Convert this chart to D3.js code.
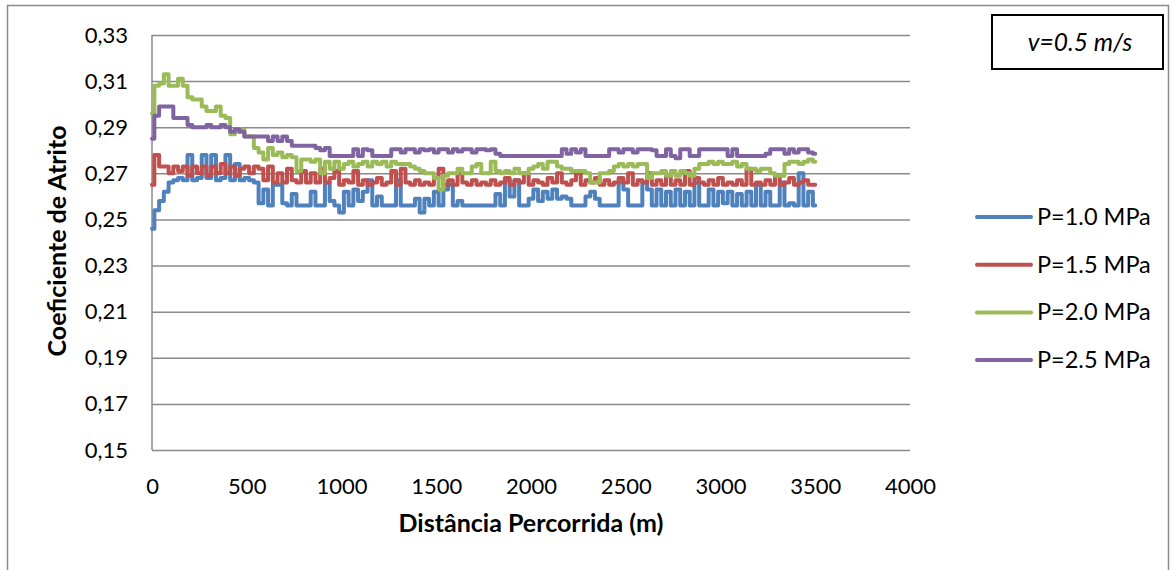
<!DOCTYPE html>
<html>
<head>
<meta charset="utf-8">
<script src="https://cdn.jsdelivr.net/npm/d3@7"></script>
<style>
  html, body { margin: 0; padding: 0; background: #fff; }
  svg { display: block; font-family: Lato, "Open Sans", sans-serif; }
</style>
</head>
<body>
<svg id="chart" width="1175" height="570"></svg>
<script>
// Friction coefficient vs. sliding distance, sampled every 25 m (0 .. 3500 m)
const sampleStep = 25;
const distances = d3.range(0, 3500 + sampleStep, sampleStep);

const seriesNames = ["P=1.0 MPa", "P=1.5 MPa", "P=2.0 MPa", "P=2.5 MPa"];
const seriesColors = ["#4F81BD", "#C0504D", "#9BBB59", "#8064A2"];

const muP10 = [
  0.246, 0.254, 0.258, 0.262, 0.266, 0.267, 0.268, 0.267, 0.278, 0.267,
  0.268, 0.278, 0.268, 0.278, 0.267, 0.268, 0.278, 0.267, 0.274, 0.267,
  0.268, 0.267, 0.266, 0.257, 0.263, 0.256, 0.265, 0.265, 0.257, 0.256,
  0.261, 0.256, 0.256, 0.256, 0.262, 0.256, 0.256, 0.266, 0.258, 0.256,
  0.253, 0.262, 0.256, 0.263, 0.258, 0.262, 0.267, 0.256, 0.260, 0.256,
  0.256, 0.256, 0.267, 0.256, 0.256, 0.256, 0.259, 0.253, 0.259, 0.256,
  0.262, 0.256, 0.263, 0.265, 0.256, 0.258, 0.256, 0.256, 0.256, 0.256,
  0.256, 0.256, 0.256, 0.261, 0.256, 0.267, 0.260, 0.267, 0.256, 0.256,
  0.259, 0.263, 0.258, 0.262, 0.259, 0.263, 0.259, 0.260, 0.259, 0.256,
  0.256, 0.256, 0.260, 0.262, 0.259, 0.256, 0.256, 0.256, 0.256, 0.266,
  0.263, 0.256, 0.256, 0.256, 0.266, 0.263, 0.256, 0.263, 0.256, 0.262,
  0.256, 0.263, 0.256, 0.262, 0.256, 0.266, 0.256, 0.256, 0.263, 0.256,
  0.262, 0.257, 0.262, 0.256, 0.261, 0.256, 0.262, 0.256, 0.265, 0.256,
  0.262, 0.256, 0.256, 0.266, 0.256, 0.257, 0.256, 0.270, 0.256, 0.262,
  0.256
];

const muP15 = [
  0.265, 0.278, 0.273, 0.273, 0.270, 0.273, 0.271, 0.273, 0.269, 0.273,
  0.270, 0.273, 0.269, 0.273, 0.270, 0.274, 0.270, 0.273, 0.269, 0.272,
  0.273, 0.270, 0.273, 0.272, 0.267, 0.273, 0.266, 0.270, 0.266, 0.272,
  0.267, 0.266, 0.271, 0.266, 0.270, 0.266, 0.272, 0.266, 0.268, 0.271,
  0.265, 0.267, 0.266, 0.271, 0.265, 0.267, 0.265, 0.266, 0.268, 0.265,
  0.266, 0.271, 0.265, 0.272, 0.266, 0.265, 0.267, 0.265, 0.266, 0.265,
  0.268, 0.272, 0.265, 0.267, 0.265, 0.270, 0.266, 0.265, 0.267, 0.265,
  0.266, 0.265, 0.267, 0.265, 0.266, 0.268, 0.265, 0.267, 0.266, 0.270,
  0.265, 0.267, 0.266, 0.265, 0.268, 0.266, 0.270, 0.266, 0.265, 0.267,
  0.270, 0.265, 0.267, 0.266, 0.268, 0.265, 0.267, 0.265, 0.266, 0.268,
  0.266, 0.270, 0.265, 0.267, 0.266, 0.270, 0.265, 0.267, 0.265, 0.269,
  0.265, 0.267, 0.265, 0.271, 0.265, 0.268, 0.266, 0.265, 0.267, 0.265,
  0.268, 0.265, 0.266, 0.265, 0.267, 0.265, 0.272, 0.265, 0.266, 0.265,
  0.267, 0.265, 0.269, 0.265, 0.266, 0.268, 0.265, 0.266, 0.267, 0.265,
  0.265
];

const muP20 = [
  0.296, 0.308, 0.309, 0.313, 0.308, 0.308, 0.311, 0.308, 0.303, 0.302,
  0.302, 0.299, 0.297, 0.297, 0.299, 0.295, 0.294, 0.287, 0.288, 0.289,
  0.286, 0.286, 0.281, 0.279, 0.276, 0.281, 0.278, 0.279, 0.277, 0.278,
  0.277, 0.271, 0.276, 0.276, 0.275, 0.276, 0.270, 0.275, 0.272, 0.275,
  0.272, 0.274, 0.275, 0.273, 0.274, 0.275, 0.273, 0.275, 0.274, 0.275,
  0.273, 0.275, 0.274, 0.274, 0.274, 0.273, 0.272, 0.271, 0.270, 0.270,
  0.268, 0.263, 0.269, 0.270, 0.270, 0.272, 0.270, 0.270, 0.273, 0.274,
  0.270, 0.270, 0.275, 0.271, 0.270, 0.271, 0.270, 0.272, 0.270, 0.270,
  0.272, 0.273, 0.274, 0.272, 0.275, 0.275, 0.273, 0.272, 0.272, 0.271,
  0.271, 0.271, 0.270, 0.266, 0.266, 0.270, 0.270, 0.271, 0.273, 0.274,
  0.273, 0.274, 0.273, 0.274, 0.274, 0.268, 0.270, 0.270, 0.271, 0.269,
  0.271, 0.269, 0.271, 0.270, 0.269, 0.272, 0.274, 0.274, 0.275, 0.274,
  0.275, 0.274, 0.274, 0.275, 0.273, 0.274, 0.272, 0.272, 0.271, 0.272,
  0.272, 0.270, 0.269, 0.269, 0.274, 0.275, 0.275, 0.274, 0.275, 0.276,
  0.275
];

const muP25 = [
  0.285, 0.295, 0.299, 0.299, 0.299, 0.294, 0.294, 0.294, 0.291, 0.290,
  0.290, 0.290, 0.291, 0.290, 0.290, 0.291, 0.290, 0.288, 0.289, 0.288,
  0.286, 0.286, 0.286, 0.286, 0.286, 0.284, 0.286, 0.284, 0.286, 0.284,
  0.282, 0.282, 0.282, 0.282, 0.282, 0.281, 0.280, 0.281, 0.2775, 0.2775,
  0.2775, 0.2775, 0.2775, 0.2805, 0.2775, 0.2805, 0.280, 0.2775, 0.2775, 0.2775,
  0.2775, 0.2805, 0.2805, 0.279, 0.2805, 0.2805, 0.279, 0.2805, 0.280, 0.2805,
  0.279, 0.2805, 0.2805, 0.279, 0.2805, 0.2795, 0.2805, 0.2805, 0.279, 0.2805,
  0.2805, 0.280, 0.2805, 0.2785, 0.2775, 0.2775, 0.2775, 0.2775, 0.2775, 0.2775,
  0.2775, 0.2775, 0.2775, 0.2775, 0.2775, 0.2775, 0.2775, 0.2805, 0.2785, 0.2805,
  0.279, 0.2805, 0.2775, 0.2775, 0.2775, 0.2775, 0.2775, 0.2805, 0.2805, 0.279,
  0.2805, 0.2805, 0.279, 0.2805, 0.2805, 0.2805, 0.280, 0.2775, 0.2775, 0.2805,
  0.2775, 0.2765, 0.2805, 0.2805, 0.2775, 0.2775, 0.2805, 0.2805, 0.2805, 0.2805,
  0.2805, 0.2805, 0.2775, 0.2805, 0.2775, 0.2775, 0.2775, 0.2775, 0.2775, 0.2775,
  0.2785, 0.2805, 0.2805, 0.2805, 0.2785, 0.2805, 0.279, 0.2805, 0.2805, 0.279,
  0.2785
];

const seriesValues = [muP10, muP15, muP20, muP25];

const xTickValues = [0, 500, 1000, 1500, 2000, 2500, 3000, 3500, 4000];
const yTickValues = [0.15, 0.17, 0.19, 0.21, 0.23, 0.25, 0.27, 0.29, 0.31, 0.33];

const xTitle = "Distância Percorrida (m)";
const yTitle = "Coeficiente de Atrito";
const speedNote = "v=0.5 m/s";

// ---- layout ----
const svg = d3.select("#chart");
const plot = { left: 152, top: 35, right: 910, bottom: 450 };
const gridColor = "#8a8a8a";

// outer chart border
svg.append("rect")
  .attr("x", 7.5).attr("y", 5.5)
  .attr("width", 1161).attr("height", 580)
  .attr("fill", "none").attr("stroke", gridColor).attr("stroke-width", 1.5);

const x = d3.scaleLinear().domain([0, 4000]).range([plot.left, plot.right]);
const y = d3.scaleLinear().domain([0.15, 0.33]).range([plot.bottom, plot.top]);

// horizontal gridlines + y tick labels
const yAxis = d3.axisLeft(y)
  .tickValues(yTickValues)
  .tickSize(-(plot.right - plot.left))
  .tickPadding(24)
  .tickFormat(d => d.toFixed(2).replace(".", ","));

const gy = svg.append("g")
  .attr("transform", `translate(${plot.left},0)`)
  .call(yAxis);
gy.select(".domain").remove();
gy.selectAll(".tick line").attr("stroke", gridColor).attr("stroke-width", 1.5);
gy.selectAll(".tick text")
  .attr("fill", "#000").style("font-size", "22px")
  .style("font-family", "Lato, 'Open Sans', sans-serif");

// vertical axis line
svg.append("line")
  .attr("x1", x(0)).attr("x2", x(0))
  .attr("y1", y(0.33)).attr("y2", y(0.15))
  .attr("stroke", gridColor).attr("stroke-width", 1.5);

// x tick labels
const xAxis = d3.axisBottom(x)
  .tickValues(xTickValues)
  .tickSize(0)
  .tickPadding(28)
  .tickFormat(d3.format("d"));
const gx = svg.append("g")
  .attr("transform", `translate(0,${plot.bottom})`)
  .call(xAxis);
gx.select(".domain").remove();
gx.selectAll(".tick text")
  .attr("fill", "#000").style("font-size", "22px")
  .style("font-family", "Lato, 'Open Sans', sans-serif");

// axis titles
svg.append("text")
  .attr("x", 531).attr("y", 532)
  .attr("text-anchor", "middle")
  .style("font-size", "25px").style("font-weight", "bold")
  .text(xTitle);

svg.append("text")
  .attr("transform", "translate(66,241) rotate(-90)")
  .attr("text-anchor", "middle")
  .style("font-size", "25px").style("font-weight", "bold")
  .text(yTitle);

// data lines
const line = d3.line()
  .x((d, i) => x(distances[i]))
  .y(d => y(d))
  .curve(d3.curveStep);

svg.append("g")
  .selectAll("path")
  .data(seriesValues)
  .join("path")
  .attr("d", d => line(d))
  .attr("fill", "none")
  .attr("stroke", (d, i) => seriesColors[i])
  .attr("stroke-width", 4)
  .attr("stroke-linejoin", "round")
  .attr("stroke-linecap", "round");

// speed annotation box
svg.append("rect")
  .attr("x", 992).attr("y", 15)
  .attr("width", 171).attr("height", 54)
  .attr("fill", "#fff").attr("stroke", "#000").attr("stroke-width", 2);
svg.append("text")
  .attr("x", 1080).attr("y", 51)
  .attr("text-anchor", "middle")
  .style("font-size", "24.5px").style("font-style", "italic")
  .text(speedNote);

// legend
const legend = svg.append("g")
  .selectAll("g")
  .data(seriesNames)
  .join("g")
  .attr("transform", (d, i) => `translate(977,${217 + i * 47.7})`);
legend.append("line")
  .attr("x1", 0).attr("x2", 54)
  .attr("stroke", (d, i) => seriesColors[i])
  .attr("stroke-width", 4)
  .attr("stroke-linecap", "round");
legend.append("text")
  .attr("x", 60).attr("y", 8)
  .style("font-size", "23.5px")
  .text(d => d);
</script>
</body>
</html>
